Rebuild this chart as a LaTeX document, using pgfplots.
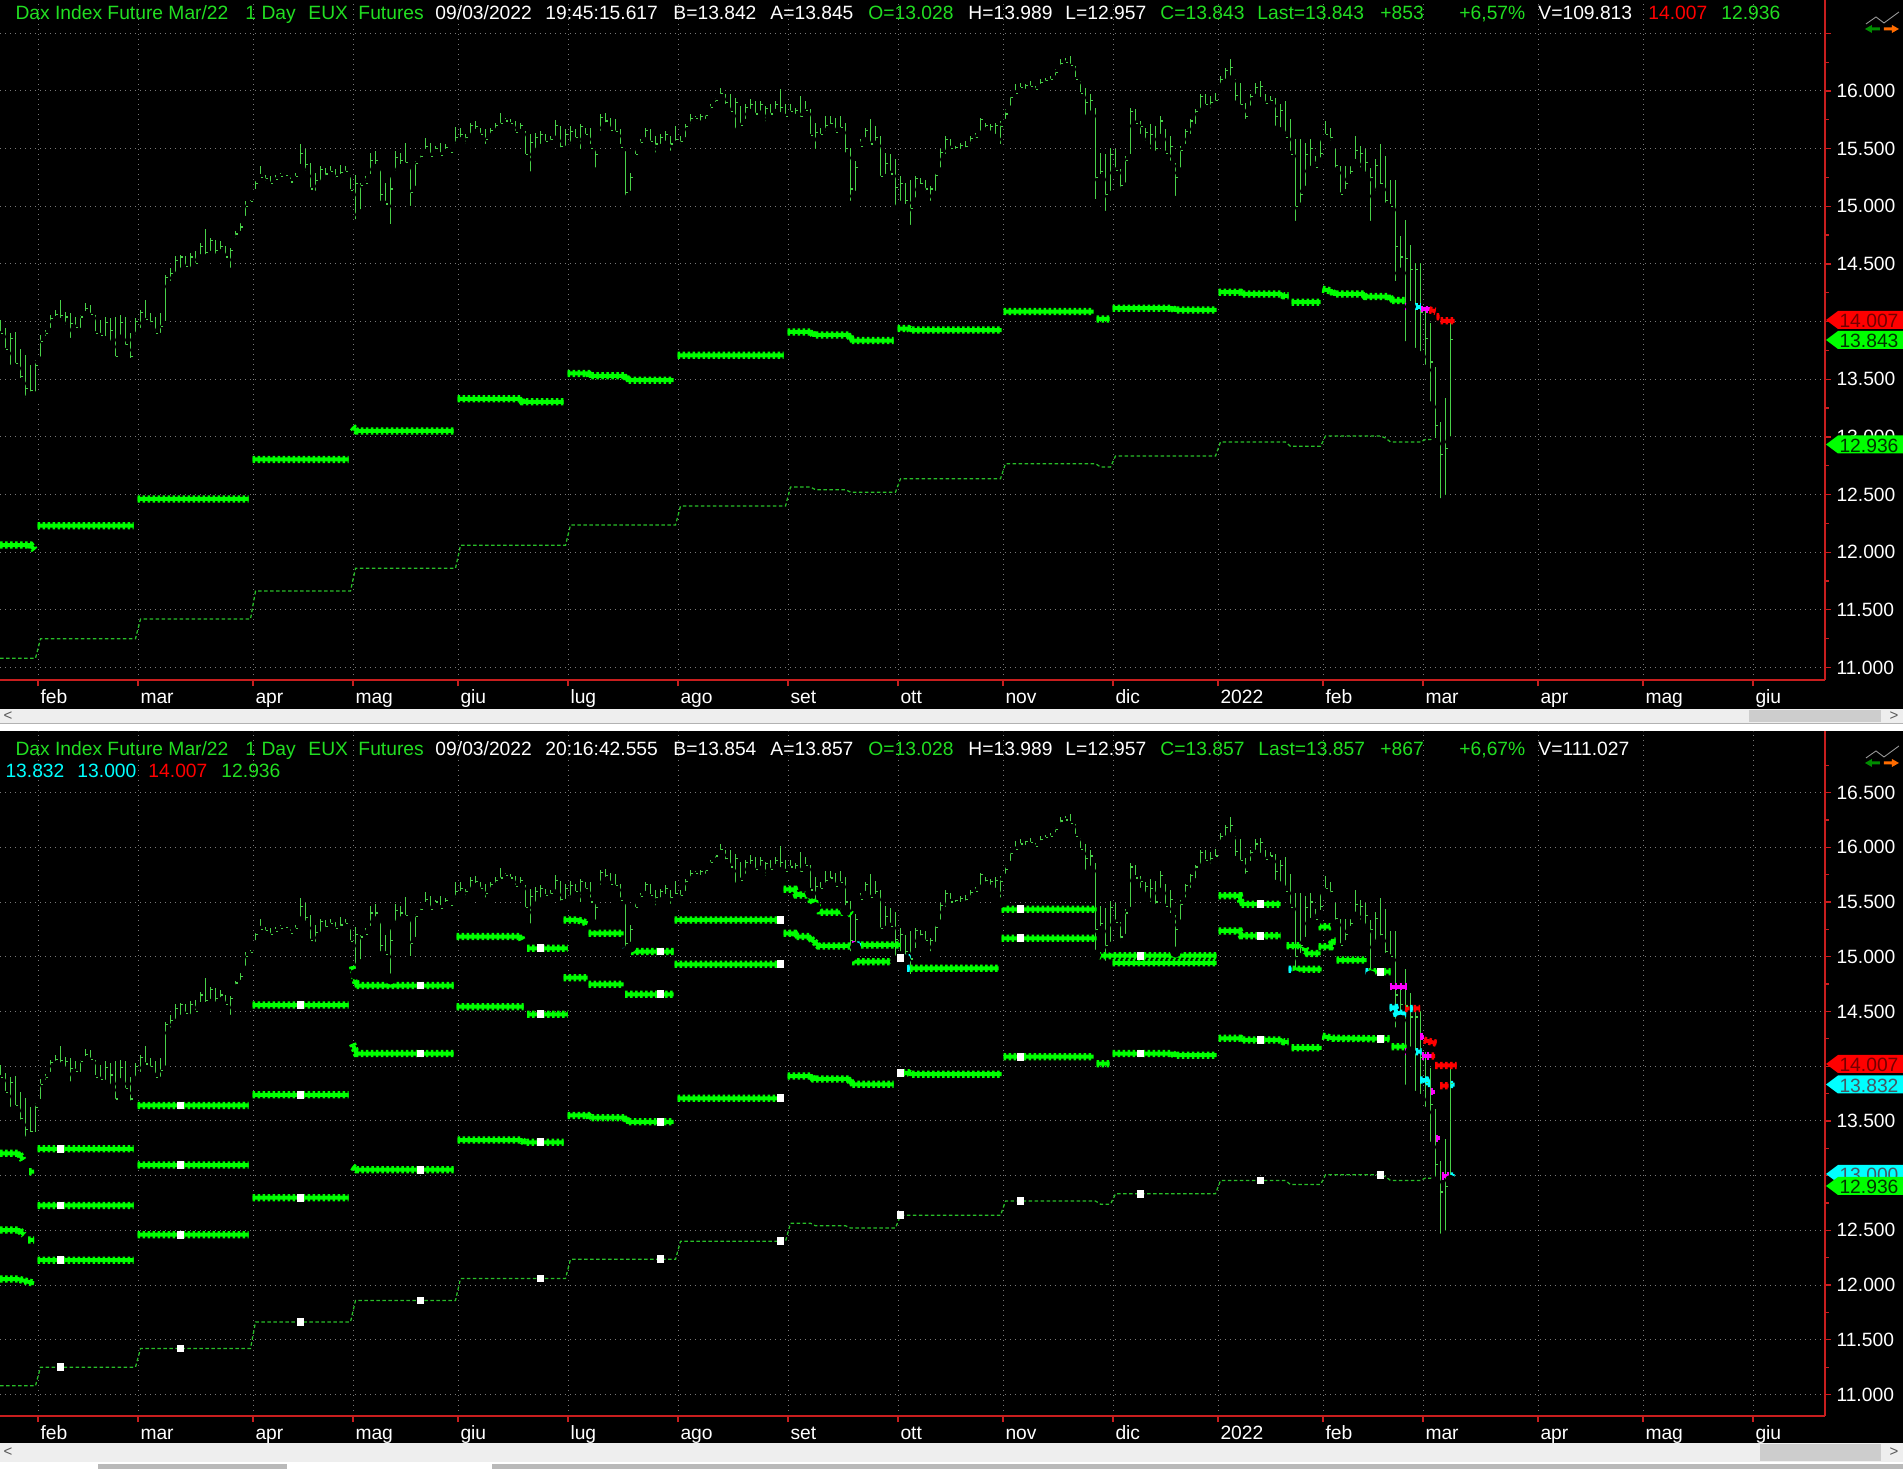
\documentclass[border=0pt]{standalone}
\usepackage{fontspec}
\setmainfont{Liberation Sans}
\usepackage{pgfplots}
\pgfplotsset{compat=1.18}
\usepackage{pgfplotstable}
\definecolor{bargreen}{RGB}{72,208,72}
\definecolor{lvlgreen}{RGB}{0,255,0}
\definecolor{dotgreen}{RGB}{40,190,40}
\definecolor{txtgreen}{RGB}{34,222,34}
\definecolor{axred}{RGB}{200,30,30}
\definecolor{gridgray}{RGB}{120,120,120}
\definecolor{mag}{RGB}{255,0,255}
\definecolor{cy}{RGB}{0,255,255}
\definecolor{tagred}{RGB}{255,0,0}
\definecolor{scroll}{RGB}{238,238,238}
\definecolor{thumb}{RGB}{205,205,205}
\newcommand{\hfont}{\fontsize{7.7pt}{9pt}\selectfont}
\tikzset{chain/.style={line width=1.6pt, postaction={draw, line width=2.9pt, dash pattern=on 1pt off 1pt}},
 dotline/.style={dotgreen, line width=0.5pt, dash pattern=on 1.4pt off 1pt}}

\pgfplotstableread{
d h l c
-8 14014 13869 13900
-7 13942 13724 13760
-6 13898 13579 13850
-5 13913 13594 13640
-4 13760 13463 13520
-3 13710 13289 13420
-2 13623 13347 13400
-1 13666 13347 13620
0 13884 13650 13830
1 13927 13826 13900
2 14058 13898 14030
3 14101 14000 14060
4 14188 13985 14050
5 14087 13927 14040
6 14072 13811 13980
7 14043 13927 13950
8 14058 13898 14040
9 14159 14043 14110
10 14145 14029 14060
11 14058 13869 13900
12 14014 13855 13880
13 14043 13826 13990
14 14029 13782 13920
15 14043 13652 13700
16 14058 13840 13990
17 14043 13753 13800
18 13898 13637 13700
19 14029 13840 14000
20 14101 13898 14080
21 14188 13985 14020
22 14072 13927 14000
23 14043 13869 13900
24 14072 13855 13960
25 14406 13956 14380
26 14464 14304 14420
27 14565 14377 14530
28 14580 14420 14560
29 14565 14449 14480
30 14594 14406 14560
31 14609 14464 14500
32 14681 14536 14650
33 14803 14536 14600
34 14724 14565 14700
35 14710 14522 14620
36 14696 14580 14650
37 14652 14536 14560
38 14638 14420 14620
39 14782 14681 14760
40 14855 14739 14820
41 15043 14869 15000
42 15058 15000 15040
43 15217 15101 15200
44 15348 15232 15250
45 15275 15174 15240
46 15261 15159 15200
47 15275 15203 15230
48 15290 15232 15260
49 15290 15261 15270
50 15275 15188 15210
51 15290 15217 15260
52 15536 15319 15460
53 15493 15261 15360
54 15377 15116 15150
55 15290 15087 15220
56 15348 15174 15320
57 15333 15217 15280
58 15348 15261 15300
59 15319 15203 15260
60 15362 15232 15290
61 15348 15261 15300
62 15275 15101 15140
63 15275 14840 15200
64 15203 14927 15180
65 15261 15174 15200
66 15464 15232 15400
67 15478 15319 15400
68 15319 15000 15100
69 15203 15000 15020
70 15261 14797 15150
71 15478 15261 15420
72 15464 15319 15400
73 15545 15333 15380
74 15333 14956 15120
75 15391 15130 15370
76 15449 15377 15430
77 15594 15449 15520
78 15551 15391 15430
79 15522 15449 15500
80 15551 15420 15440
81 15536 15449 15510
82 15493 15449 15470
83 15687 15493 15600
84 15681 15551 15620
85 15623 15493 15600
86 15725 15580 15700
87 15739 15623 15690
88 15681 15580 15620
89 15667 15493 15580
90 15681 15580 15660
91 15725 15623 15700
92 15812 15667 15720
93 15768 15710 15740
94 15754 15681 15720
95 15739 15609 15640
96 15725 15623 15700
97 15652 15406 15450
98 15623 15255 15550
99 15638 15449 15600
100 15652 15493 15620
101 15623 15522 15560
102 15609 15522 15580
103 15745 15565 15700
104 15696 15464 15520
105 15667 15478 15620
106 15696 15493 15650
107 15667 15551 15600
108 15710 15449 15690
109 15681 15580 15620
110 15681 15493 15500
111 15493 15290 15450
112 15797 15609 15770
113 15806 15681 15740
114 15768 15638 15660
115 15754 15609 15650
116 15667 15493 15510
117 15478 15035 15120
118 15290 15087 15250
119 15493 15406 15450
120 15580 15493 15550
121 15681 15551 15660
122 15667 15522 15560
123 15609 15420 15540
124 15623 15493 15600
125 15652 15522 15620
126 15609 15435 15540
127 15696 15522 15580
128 15609 15493 15560
129 15710 15551 15690
130 15797 15667 15760
131 15783 15725 15760
132 15797 15696 15780
133 15797 15710 15790
134 15884 15797 15860
135 15942 15855 15920
136 16029 15928 15980
137 15971 15841 15900
138 15971 15783 15820
139 15942 15623 15900
140 15870 15667 15700
141 15884 15710 15860
142 15933 15797 15880
143 15913 15754 15800
144 15913 15783 15880
145 15870 15690 15850
146 15884 15754 15800
147 15913 15797 15880
148 16015 15768 15860
149 15884 15754 15780
150 15884 15783 15820
151 15855 15754 15830
152 15957 15725 15780
153 15913 15797 15830
154 15841 15580 15610
155 15725 15449 15640
156 15681 15580 15620
157 15783 15609 15700
158 15783 15667 15720
159 15768 15609 15640
160 15783 15638 15680
161 15725 15420 15500
162 15507 15000 15150
163 15391 15087 15340
164 15580 15493 15520
165 15681 15551 15660
166 15754 15493 15540
167 15696 15522 15600
168 15609 15217 15260
169 15464 15232 15370
170 15449 15261 15280
171 15406 14956 15160
172 15261 15000 15200
173 15203 14971 15050
174 15232 14791 14980
175 15261 15029 15240
176 15246 15145 15200
177 15232 15087 15150
178 15174 15000 15150
179 15290 15087 15270
180 15493 15290 15470
181 15609 15406 15580
182 15580 15478 15500
183 15522 15449 15510
184 15551 15449 15530
185 15565 15464 15520
186 15609 15493 15590
187 15638 15551 15600
188 15768 15609 15750
189 15725 15638 15700
190 15710 15609 15690
191 15725 15580 15700
192 15739 15493 15690
193 15841 15710 15800
194 15957 15826 15940
195 16058 15957 15980
196 16072 15986 16030
197 16058 15971 16050
198 16087 16000 16040
199 16043 15971 16010
200 16101 16014 16070
201 16116 16043 16090
202 16130 16058 16100
203 16188 16087 16160
204 16275 16174 16240
205 16290 16217 16250
206 16304 16188 16220
207 16217 16072 16100
208 16087 15942 15980
209 16029 15739 15900
210 15971 15783 15920
211 15855 15014 15250
212 15464 15232 15300
213 15449 14913 15100
214 15507 15087 15450
215 15493 15290 15310
216 15319 15101 15180
217 15435 15159 15400
218 15855 15406 15820
219 15841 15696 15720
220 15739 15580 15690
221 15681 15522 15640
222 15710 15449 15620
223 15696 15435 15500
224 15783 15580 15740
225 15667 15435 15460
226 15609 15348 15520
227 15377 15043 15250
228 15522 15290 15480
229 15667 15493 15650
230 15754 15580 15740
231 15841 15667 15820
232 15971 15797 15950
233 15971 15841 15880
234 15957 15797 15900
235 15986 15870 15920
236 16130 16014 16100
237 16203 16058 16180
238 16281 16087 16200
239 16101 15870 15960
240 16072 15826 15880
241 15899 15710 15780
242 15971 15826 15950
243 16072 15928 16030
244 16087 15899 16040
245 15971 15841 15890
246 15957 15870 15920
247 15942 15652 15780
248 15884 15638 15830
249 15913 15580 15600
250 15754 15435 15450
251 15580 14826 15000
252 15580 14985 15100
253 15551 15130 15450
254 15580 15304 15500
255 15435 15319 15340
256 15580 15377 15460
257 15739 15580 15620
258 15681 15522 15600
259 15493 15290 15350
260 15348 15072 15100
261 15348 15101 15200
262 15348 15232 15300
263 15609 15362 15480
264 15522 15290 15460
265 15493 15232 15380
266 15333 14826 15250
267 15406 15087 15350
268 15536 15145 15200
269 15435 14985 15050
270 15232 14971 15000
271 15232 14304 14650
272 14739 14420 14560
273 14884 13782 14550
274 14667 14130 14450
275 14507 13724 14450
276 14507 13695 14080
277 14130 13579 13850
278 13985 13260 13650
279 13608 12942 13100
280 13130 12420 12850
281 13333 12449 12900
282 13989 12957 13843
}\bars

\pgfplotstableread{
d v
-8.1 11080
-1 11080
0 11250
19 11250
20 11420
42 11420
43 11663
62 11663
63 11860
83 11860
84 12060
105 12060
106 12235
127 12235
128 12400
149 12400
150 12565
154 12565
155 12542
161 12542
162 12521
171 12521
172 12637
192 12637
193 12768
211 12768
212 12739
214 12739
215 12834
235 12834
236 12956
249 12956
250 12918
256 12918
257 13008
268 13008
269 12990
270 12956
276 12956
277 12978
279 12975
280 12945
}\dotted

\pgfplotstableread{
d v
-8.1 12062
-2 12062
-1.2 12020
nan nan
-0.6 12230
18.6 12230
nan nan
19.4 12462
41.6 12462
nan nan
42.4 12805
61.6 12805
nan nan
62.4 13087
63.2 13052
82.6 13052
nan nan
83.4 13330
96 13330
96.4 13304
104.6 13304
nan nan
105.4 13550
109.5 13550
109.9 13530
117 13530
117.4 13492
126.6 13492
nan nan
127.4 13707
148.6 13707
nan nan
149.4 13910
154.2 13910
154.6 13884
161.8 13884
162.2 13835
170.6 13835
nan nan
171.4 13939
173.6 13939
174 13927
192.2 13927
nan nan
192.6 14087
210.6 14087
nan nan
211.2 14023
213.8 14023
nan nan
214.4 14116
226.4 14116
226.8 14101
235.2 14101
nan nan
235.6 14255
240 14255
240.4 14240
248 14240
248.6 14223
249.6 14223
nan nan
250.2 14168
256 14168
nan nan
256.4 14281
258.2 14265
258.7 14240
264.6 14240
265 14217
269.8 14217
270.2 14182
272.8 14182
}\topP

\pgfplotstableread{
d v
272.9 14130
273.9 14130
nan nan
276 14107
277.8 14107
}\topMag
\pgfplotstableread{
d v
273.9 14130
276 14130
}\topCy
\pgfplotstableread{
d v
277.8 14101
279 14090
nan nan
279.2 14043
279.8 14043
nan nan
280 14007
282.8 14007
}\topRed

\pgfplotstableread{
d v
-8.1 13204
-4.3 13204
-3.5 13143
nan nan
-2.3 13036
-1.3 13036
nan nan
-8.1 12503
-4.3 12503
-3.3 12460
nan nan
-2.5 12412
-1.3 12412
nan nan
-8.1 12055
-4.5 12055
-1.3 12016
nan nan
-0.6 13245
18.6 13245
nan nan
-0.6 12728
18.6 12728
nan nan
-0.6 12228
18.6 12228
nan nan
19.4 13642
41.6 13642
nan nan
19.4 13097
41.6 13097
nan nan
19.4 12460
41.6 12460
nan nan
42.4 14559
61.6 14559
nan nan
42.4 13739
61.6 13739
nan nan
42.4 12798
61.6 12798
nan nan
62.4 14914
63.2 14737
82.6 14737
nan nan
62.4 14205
63.2 14116
82.6 14116
nan nan
62.4 13082
63.2 13054
82.6 13054
nan nan
83.2 15184
96 15184
96.3 15155
nan nan
97.3 15077
105.4 15077
nan nan
83.2 14544
96.6 14544
nan nan
97.3 14474
105.4 14474
nan nan
83.4 13325
96.2 13325
96.8 13304
104.6 13304
nan nan
104.6 15336
107.5 15336
109.4 15306
nan nan
109.6 15214
116.6 15214
nan nan
117.1 15047
126.6 15047
nan nan
104.6 14809
109.4 14809
nan nan
109.6 14748
116.6 14748
nan nan
116.9 14657
126.6 14657
nan nan
105.4 13550
109.5 13550
109.9 13530
117 13530
117.4 13492
126.6 13492
nan nan
126.8 15336
148.6 15336
nan nan
126.8 14931
148.6 14931
nan nan
127.4 13707
148.6 13707
nan nan
148.6 15616
150.8 15616
151.2 15565
153.8 15565
154.2 15498
155.2 15498
155.6 15406
161.6 15406
162.2 15385
nan nan
148.6 15214
150.8 15214
151.2 15184
153.8 15184
154.4 15147
155.2 15120
155.6 15099
162 15099
nan nan
164.1 15108
172 15108
nan nan
162.3 14955
171.4 14955
nan nan
149.4 13910
154.2 13910
154.6 13884
161.8 13884
162.2 13835
170.6 13835
nan nan
173.9 14894
191.6 14894
nan nan
171.4 13939
173.6 13939
174 13927
192.2 13927
nan nan
192.2 15434
211.2 15434
nan nan
192.2 15169
211.2 15169
nan nan
192.6 14087
210.6 14087
nan nan
211.2 14023
213.8 14023
nan nan
211.6 15010
235.2 15010
nan nan
214.4 14945
235.2 14945
nan nan
214.4 14116
226.4 14116
226.8 14101
235.2 14101
nan nan
235.6 15558
239.8 15558
240.2 15480
248 15480
nan nan
249.2 15100
252.8 15100
253.2 15030
256 15030
nan nan
235.6 15236
239.8 15236
240.2 15192
248 15192
nan nan
250.4 14885
256.2 14885
nan nan
235.6 14255
240 14255
240.4 14240
248 14240
248.6 14223
249.6 14223
nan nan
250.2 14168
256.2 14168
nan nan
255.6 15275
258.2 15275
nan nan
255.6 15092
258 15092
258.4 15144
259 15144
nan nan
259.2 14970
265.2 14970
nan nan
265.6 14863
270 14863
nan nan
256.4 14275
258.4 14255
269.8 14250
nan nan
270.2 14178
273.2 14178
}\botG

\pgfplotstableread{
d v
269.8 14726
273.2 14726
nan nan
272.9 14132
274 14132
nan nan
275.9 14269
276.7 14269
nan nan
276.2 14093
278.2 14093
nan nan
278 13767
278.8 13767
nan nan
279 13340
279.8 13340
nan nan
280.2 12996
281.6 12996
nan nan
162.3 15108
163.1 15108
}\botMag
\pgfplotstableread{
d v
269.8 14537
270.9 14537
271.2 14483
273.1 14483
nan nan
274 14132
276.2 14132
nan nan
273.9 14528
274.5 14528
nan nan
275.9 13873
277.1 13873
277.4 13843
277.9 13843
nan nan
282 13832
282.8 13832
nan nan
282 12996
282.8 12996
nan nan
171.6 14990
174 14990
nan nan
173.3 14894
173.9 14894
nan nan
163.3 15108
164.1 15108
nan nan
116.4 15047
117.1 15047
nan nan
249.6 14885
250.2 14885
nan nan
265 14863
265.6 14863
}\botCy
\pgfplotstableread{
d v
272.9 14528
273.8 14528
nan nan
274.6 14528
275.9 14528
nan nan
276.7 14239
279.2 14209
nan nan
278.2 14093
278.9 14093
nan nan
278.9 14007
283.2 14007
nan nan
279.9 13822
281.6 13822
}\botRed

\pgfplotstableread{
d v
4 13245
4 12728
4 12228
4 11250
28 13642
28 13097
28 12460
28 11420
52 14559
52 13739
52 12798
52 11663
76 14737
76 14116
76 13054
76 11860
100 15077
100 14474
100 13304
100 12060
124 15047
124 14657
124 13492
124 12235
148 15336
148 14931
148 13707
148 12400
172 14990
172 13939
172 12637
196 15434
196 15169
196 14087
196 12768
220 15010
220 14116
220 12834
244 15480
244 15192
244 14240
244 12956
268 14863
268 14250
268 13008
}\whites

\pgfplotsset{
 panel/.style={
  scale only axis, width=730pt,
  xmin=-8.1, xmax=356.9,
  scaled ticks=false,
  axis x line*=bottom, axis y line*=right,
  axis line style={axred, line width=0.5pt},
  tick style={axred, line width=0.5pt},
  tick align=outside,
  major tick length=2.4pt, minor tick length=1.4pt,
  xtick={-0.5,19.5,42.5,62.5,83.5,105.5,127.5,149.5,171.5,192.5,214.5,235.5,256.5,276.5,299.5,320.5,342.5},
  xticklabels={feb,mar,apr,mag,giu,lug,ago,set,ott,nov,dic,2022,feb,mar,apr,mag,giu},
  xticklabel style={anchor=base west, inner sep=0pt, xshift=0.8pt, yshift=-7pt, font=\hfont, text=white},
  yticklabel style={anchor=west, inner sep=0pt, xshift=2pt, font=\hfont, text=white},
  grid=major,
  major grid style={gridgray, line width=0.4pt, dash pattern=on 0.4pt off 1.6pt},
  unbounded coords=jump,
 }
}

\newcommand{\hdr}[4]{\node[anchor=base west, inner sep=0pt, text=#3, font=\hfont] at (#1,#2) {#4};}
\newcommand{\pricetag}[4]{%
 \begin{scope}
 \clip (1826,#1) -- (1838,#1-9) -- (1903,#1-9) -- (1903,#1+9) -- (1838,#1+9) -- cycle;
 \fill[#2] (1826,#1) -- (1838,#1-9) -- (1903,#1-9) -- (1903,#1+9) -- (1838,#1+9) -- cycle;
 \node[anchor=center, inner sep=0pt, text=#3, font=\hfont] at (1869,#1+1) {#4};
 \end{scope}}

\begin{document}
\begin{tikzpicture}
\useasboundingbox (0,0) rectangle (761.2pt,587.6pt);
\fill[black] (0,0) rectangle (761.2pt,587.6pt);

% ---------------- top panel
\begin{axis}[panel, at={(0pt,315.6pt)}, anchor=south west, height=272pt,
  ymin=10892, ymax=16789,
  ytick={11000,11500,12000,12500,13000,13500,14000,14500,15000,15500,16000,16500},
  yticklabels={11.000,11.500,12.000,12.500,13.000,13.500,14.000,14.500,15.000,15.500,16.000,{}},
  minor ytick={11250,11750,12250,12750,13250,13750,14250,14750,15250,15750,16250}]
\addplot[only marks, mark=none, forget plot, error bars/.cd, y dir=plus, y explicit, error mark=none,
  error bar style={draw=bargreen, line width=0.55pt}]
  table[x=d, y=l, y error plus expr=\thisrow{h}-\thisrow{l}] {\bars};
\addplot[only marks, mark=-, mark size=0.5pt, mark options={xshift=0.5pt, draw=bargreen, line width=0.45pt}] table[x=d, y=c] {\bars};
\addplot[dotline] table[x=d, y=v] {\dotted};
\addplot[lvlgreen, chain] table[x=d, y=v] {\topP};
\addplot[mag, chain] table[x=d, y=v] {\topMag};
\addplot[cy, chain] table[x=d, y=v] {\topCy};
\addplot[tagred, chain] table[x=d, y=v] {\topRed};
\end{axis}

% ---------------- bottom panel
\begin{axis}[panel, at={(0pt,21.2pt)}, anchor=south west, height=274pt,
  ymin=10804, ymax=17063,
  ytick={11000,11500,12000,12500,13000,13500,14000,14500,15000,15500,16000,16500},
  yticklabels={11.000,11.500,12.000,12.500,13.000,13.500,14.000,14.500,15.000,15.500,16.000,16.500},
  minor ytick={11250,11750,12250,12750,13250,13750,14250,14750,15250,15750,16250,16750}]
\addplot[only marks, mark=none, forget plot, error bars/.cd, y dir=plus, y explicit, error mark=none,
  error bar style={draw=bargreen, line width=0.55pt}]
  table[x=d, y=l, y error plus expr=\thisrow{h}-\thisrow{l}] {\bars};
\addplot[only marks, mark=-, mark size=0.5pt, mark options={xshift=0.5pt, draw=bargreen, line width=0.45pt}] table[x=d, y=c] {\bars};
\addplot[dotline] table[x=d, y=v] {\dotted};
\addplot[lvlgreen, chain] table[x=d, y=v] {\botG};
\addplot[mag, chain] table[x=d, y=v] {\botMag};
\addplot[cy, chain] table[x=d, y=v] {\botCy};
\addplot[tagred, chain] table[x=d, y=v] {\botRed};
\addplot[only marks, mark=square*, mark size=1.35pt, mark options={fill=white, draw=white}] table[x=d, y=v] {\whites};
\end{axis}

% ---------------- overlays in pixel coordinates
\begin{scope}[yshift=587.6pt, x=0.4pt, y=-0.4pt]
% top header
\hdr{15}{20}{txtgreen}{Dax Index Future Mar/22}
\hdr{245}{20}{txtgreen}{1 Day}
\hdr{308}{20}{txtgreen}{EUX}
\hdr{358}{20}{txtgreen}{Futures}
\hdr{435}{20}{white}{09/03/2022}
\hdr{545}{20}{white}{19:45:15.617}
\hdr{673}{20}{white}{B=13.842}
\hdr{770}{20}{white}{A=13.845}
\hdr{868}{20}{txtgreen}{O=13.028}
\hdr{968}{20}{white}{H=13.989}
\hdr{1065}{20}{white}{L=12.957}
\hdr{1160}{20}{txtgreen}{C=13.843}
\hdr{1257}{20}{txtgreen}{Last=13.843}
\hdr{1380}{20}{txtgreen}{+853}
\hdr{1459}{20}{txtgreen}{+6,57\%}
\hdr{1538}{20}{white}{V=109.813}
\hdr{1648}{20}{tagred}{14.007}
\hdr{1721}{20}{txtgreen}{12.936}
% bottom header
\hdr{15}{756}{txtgreen}{Dax Index Future Mar/22}
\hdr{245}{756}{txtgreen}{1 Day}
\hdr{308}{756}{txtgreen}{EUX}
\hdr{358}{756}{txtgreen}{Futures}
\hdr{435}{756}{white}{09/03/2022}
\hdr{545}{756}{white}{20:16:42.555}
\hdr{673}{756}{white}{B=13.854}
\hdr{770}{756}{white}{A=13.857}
\hdr{868}{756}{txtgreen}{O=13.028}
\hdr{968}{756}{white}{H=13.989}
\hdr{1065}{756}{white}{L=12.957}
\hdr{1160}{756}{txtgreen}{C=13.857}
\hdr{1258}{756}{txtgreen}{Last=13.857}
\hdr{1380}{756}{txtgreen}{+867}
\hdr{1459}{756}{txtgreen}{+6,67\%}
\hdr{1538}{756}{white}{V=111.027}
\hdr{5}{778}{cy}{13.832}
\hdr{77}{778}{cy}{13.000}
\hdr{148}{778}{tagred}{14.007}
\hdr{221}{778}{txtgreen}{12.936}

% price tags
\pricetag{320}{tagred}{red!45!black}{14.007}
\pricetag{340}{lvlgreen}{black!80!green}{13.843}
\pricetag{444.5}{lvlgreen}{black!80!green}{12.936}
\pricetag{1064}{tagred}{red!45!black}{14.007}
\pricetag{1084.5}{cy}{black!70!cyan}{13.832}
\pricetag{1174}{cy}{black!70!cyan}{13.000}
\pricetag{1186}{lvlgreen}{black!80!green}{12.936}

% icons
\draw[gray!80, line width=0.35pt] (1866,24) -- (1876,17) -- (1884,23) -- (1899,12);
\fill[green!55!black] (1865,29) -- (1872,25) -- (1872,27.5) -- (1880,27.5) -- (1880,30.5) -- (1872,30.5) -- (1872,33) -- cycle;
\fill[orange!85!red] (1899,29) -- (1892,25) -- (1892,27.5) -- (1884,27.5) -- (1884,30.5) -- (1892,30.5) -- (1892,33) -- cycle;
\draw[gray!80, line width=0.35pt] (1866,758) -- (1876,751) -- (1884,757) -- (1899,746);
\fill[green!55!black] (1865,763) -- (1872,759) -- (1872,761.5) -- (1880,761.5) -- (1880,764.5) -- (1872,764.5) -- (1872,767) -- cycle;
\fill[orange!85!red] (1899,763) -- (1892,759) -- (1892,761.5) -- (1884,761.5) -- (1884,764.5) -- (1892,764.5) -- (1892,767) -- cycle;

% scrollbars
\fill[scroll] (0,709) rectangle (1903,723);
\fill[thumb] (1749,710) rectangle (1881,722);
\fill[white] (0,723) rectangle (1903,731);
\draw[gray!60, line width=0.3pt] (0,723.5) -- (1903,723.5);
\node[text=gray!70!black, font=\fontsize{6pt}{7pt}\selectfont, inner sep=0pt] at (8,716) {<};
\node[text=gray!70!black, font=\fontsize{6pt}{7pt}\selectfont, inner sep=0pt] at (1894,716) {>};
\fill[scroll] (0,1443) rectangle (1903,1462);
\fill[thumb] (1760,1444.5) rectangle (1881,1461);
\fill[white] (0,1462) rectangle (1903,1469);
\fill[gray!55] (98,1464.5) rectangle (287,1469);
\fill[gray!55] (492,1464.5) rectangle (1903,1469);
\node[text=gray!70!black, font=\fontsize{6pt}{7pt}\selectfont, inner sep=0pt] at (8,1452) {<};
\node[text=gray!70!black, font=\fontsize{6pt}{7pt}\selectfont, inner sep=0pt] at (1894,1452) {>};
\end{scope}
\end{tikzpicture}
\end{document}
